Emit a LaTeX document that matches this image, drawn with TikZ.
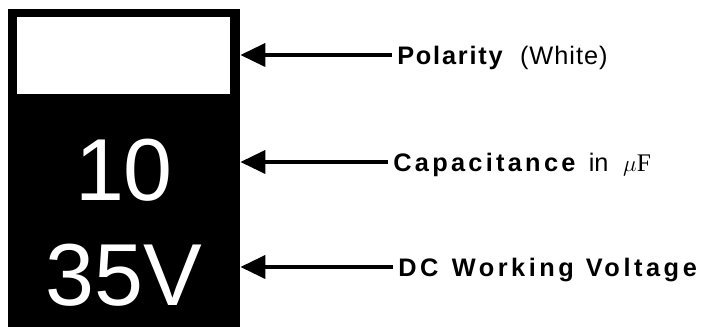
\documentclass[tikz,border=0pt]{standalone}
\usepackage{fontspec}
\setmainfont{Liberation Sans}
\newfontfamily\serffont{Liberation Serif}
\usetikzlibrary{arrows.meta}

\begin{document}
\begin{tikzpicture}[x=0.75pt, y=-0.75pt,
    lab/.style={anchor=west, inner ysep=0pt, inner xsep=3.8pt, text height=13.6pt, text depth=0pt,
        font=\fontsize{19}{22}\selectfont},
    pointer/.style={line width=3.4pt, -{Triangle[length=18.75pt, width=17pt]}},
    bignum/.style={anchor=base, text=white, inner sep=0pt,
        font=\fontsize{66}{72}\selectfont}]
    % Fix the page size
    \useasboundingbox (0,0) rectangle (708,327);

    % Draw the capacitor body
    \node[fill=black, minimum width=174pt, minimum height=238.5pt, inner sep=0pt] (body) at (124,168) {};
    % White polarity band
    \node[fill=white, minimum width=159.75pt, minimum height=57.75pt, inner sep=0pt] (band) at (123.5,55.5) {};

    % Printed values
    \node[bignum] (value) at (124,201) {10};
    \node[bignum] (volts) at (124,306) {35V};

    % Labels on the right
    \node[lab] (pollab) at (392,55)
        {{\bfseries\addfontfeatures{LetterSpace=7}Polarity}\hspace{13pt}{\addfontfeatures{LetterSpace=4}(White)}};
    \node[lab] (caplab) at (388,162)
        {{\bfseries\addfontfeatures{LetterSpace=13}Capacitance}\hspace{10pt}in\hspace{11pt}{\serffont$\mu$F}};
    \node[lab] (dclab) at (393,267)
        {{\bfseries\addfontfeatures{LetterSpace=14}DC\hspace{10pt}Working\hspace{9pt}Voltage}};

    % Draw the arrows
    \draw[pointer] (pollab.west) -- (pollab.west -| body.east);
    \draw[pointer] (caplab.west) -- (caplab.west -| body.east);
    \draw[pointer] (dclab.west) -- (dclab.west -| body.east);
\end{tikzpicture}
\end{document}
